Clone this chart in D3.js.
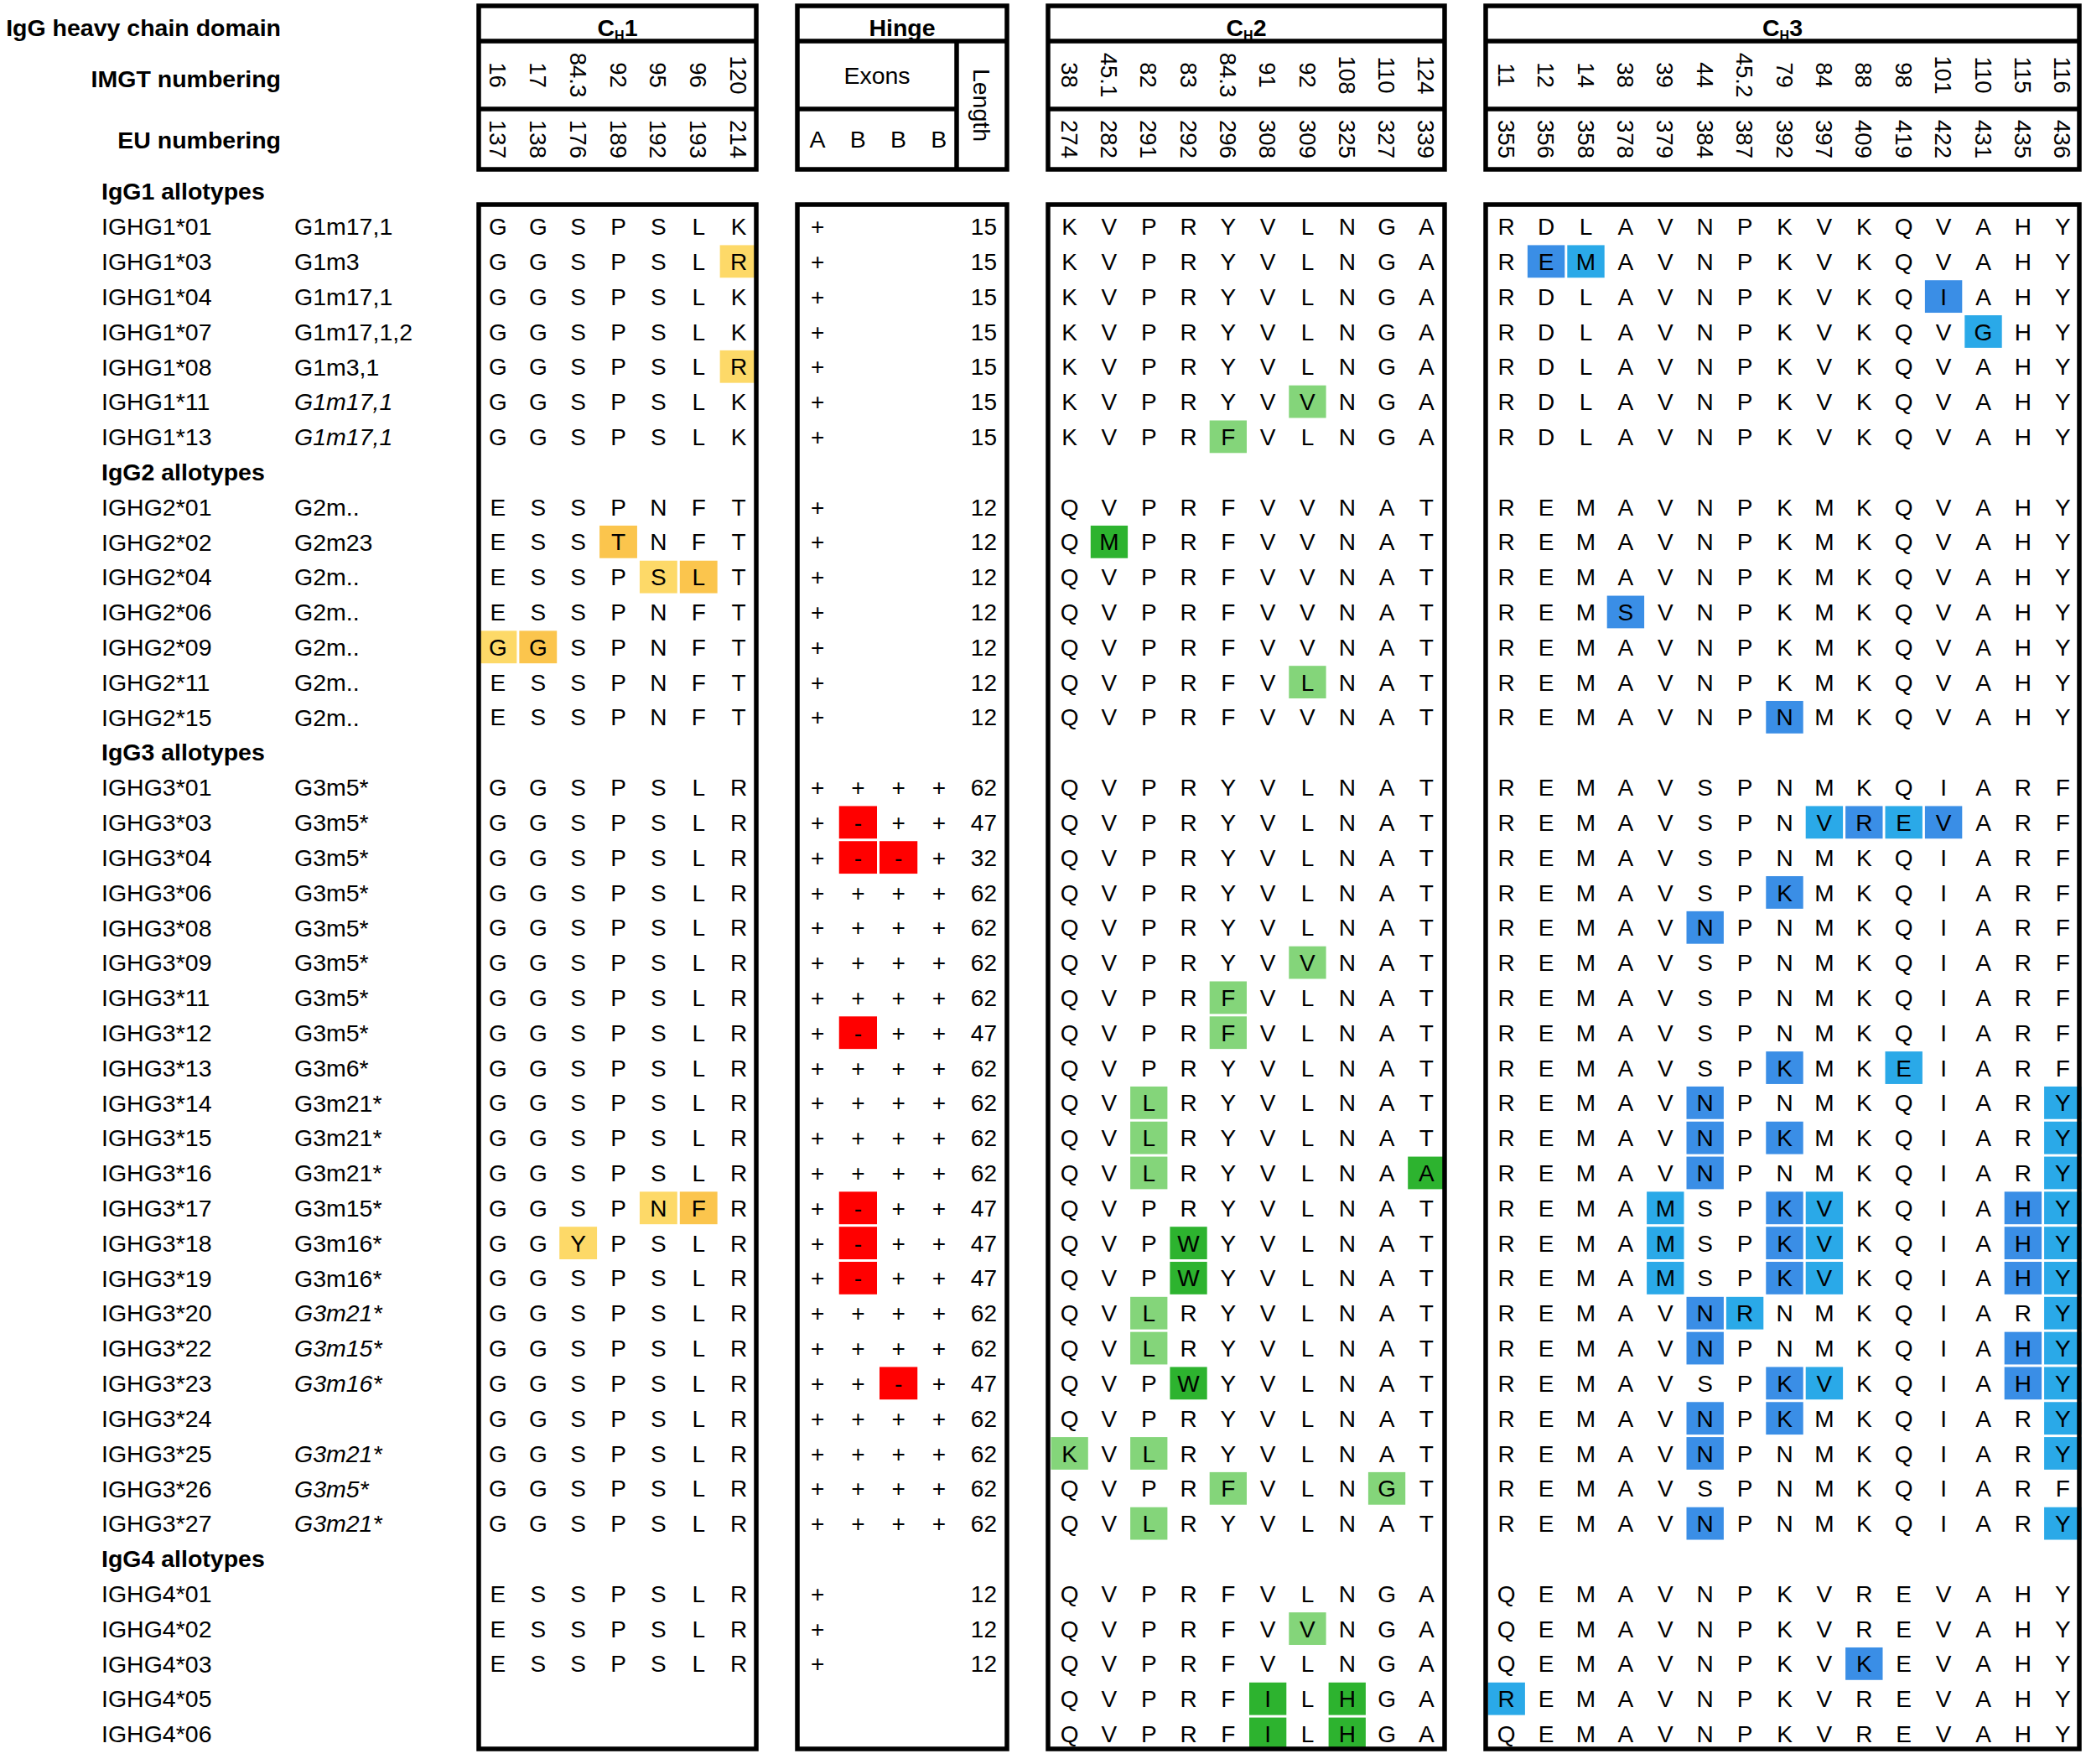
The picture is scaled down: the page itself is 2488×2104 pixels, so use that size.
<!DOCTYPE html>
<html>
<head>
<meta charset="utf-8">
<script src="https://cdn.jsdelivr.net/npm/d3@7"></script>
<style>
  body { margin: 0; background: #fff; }
  text { font-family: "Liberation Sans", Arial, sans-serif; fill: #000; }
</style>
</head>
<body>
<div id="chart"></div>
<script>
// ---- data ----
const groupNames = ["IgG1 allotypes", "IgG2 allotypes", "IgG3 allotypes", "IgG4 allotypes"];

const alleles = [
  "IGHG1*01","IGHG1*03","IGHG1*04","IGHG1*07","IGHG1*08","IGHG1*11","IGHG1*13",
  "IGHG2*01","IGHG2*02","IGHG2*04","IGHG2*06","IGHG2*09","IGHG2*11","IGHG2*15",
  "IGHG3*01","IGHG3*03","IGHG3*04","IGHG3*06","IGHG3*08","IGHG3*09","IGHG3*11","IGHG3*12",
  "IGHG3*13","IGHG3*14","IGHG3*15","IGHG3*16","IGHG3*17","IGHG3*18","IGHG3*19","IGHG3*20",
  "IGHG3*22","IGHG3*23","IGHG3*24","IGHG3*25","IGHG3*26","IGHG3*27",
  "IGHG4*01","IGHG4*02","IGHG4*03","IGHG4*05","IGHG4*06"
];

const allotypes = [
  "G1m17,1","G1m3","G1m17,1","G1m17,1,2","G1m3,1","G1m17,1","G1m17,1",
  "G2m..","G2m23","G2m..","G2m..","G2m..","G2m..","G2m..",
  "G3m5*","G3m5*","G3m5*","G3m5*","G3m5*","G3m5*","G3m5*","G3m5*",
  "G3m6*","G3m21*","G3m21*","G3m21*","G3m15*","G3m16*","G3m16*","G3m21*",
  "G3m15*","G3m16*","","G3m21*","G3m5*","G3m21*",
  "","","","",""
];

const italicAllotypes = ["IGHG1*11","IGHG1*13","IGHG3*20","IGHG3*22","IGHG3*23","IGHG3*25","IGHG3*26","IGHG3*27"];

const ch1Imgt = ["16","17","84.3","92","95","96","120"];
const ch1Eu   = ["137","138","176","189","192","193","214"];
const ch2Imgt = ["38","45.1","82","83","84.3","91","92","108","110","124"];
const ch2Eu   = ["274","282","291","292","296","308","309","325","327","339"];
const ch3Imgt = ["11","12","14","38","39","44","45.2","79","84","88","98","101","110","115","116"];
const ch3Eu   = ["355","356","358","378","379","384","387","392","397","409","419","422","431","435","436"];
const hingeExonNames = ["A","B","B","B"];

const ch1Seq = [
  "GGSPSLK","GGSPSLR","GGSPSLK","GGSPSLK","GGSPSLR","GGSPSLK","GGSPSLK",
  "ESSPNFT","ESSTNFT","ESSPSLT","ESSPNFT","GGSPNFT","ESSPNFT","ESSPNFT",
  "GGSPSLR","GGSPSLR","GGSPSLR","GGSPSLR","GGSPSLR","GGSPSLR","GGSPSLR","GGSPSLR",
  "GGSPSLR","GGSPSLR","GGSPSLR","GGSPSLR","GGSPNFR","GGYPSLR","GGSPSLR","GGSPSLR",
  "GGSPSLR","GGSPSLR","GGSPSLR","GGSPSLR","GGSPSLR","GGSPSLR",
  "ESSPSLR","ESSPSLR","ESSPSLR","",""
];
const ch1Mark = [
  "0","0000001","0","0","0000001","0","0",
  "0","0001000","0000110","0","1100000","0","0",
  "0","0","0","0","0","0","0","0",
  "0","0","0","0","0000110","0010000","0","0",
  "0","0","0","0","0","0",
  "0","0","0","",""
];

const hingeExons = [
  "+   ","+   ","+   ","+   ","+   ","+   ","+   ",
  "+   ","+   ","+   ","+   ","+   ","+   ","+   ",
  "++++","+-++","+--+","++++","++++","++++","++++","+-++",
  "++++","++++","++++","++++","+-++","+-++","+-++","++++",
  "++++","++-+","++++","++++","++++","++++",
  "+   ","+   ","+   ","",""
];
const hingeLength = [
  15,15,15,15,15,15,15,
  12,12,12,12,12,12,12,
  62,47,32,62,62,62,62,47,
  62,62,62,62,47,47,47,62,
  62,47,62,62,62,62,
  12,12,12,null,null
];

const ch2Seq = [
  "KVPRYVLNGA","KVPRYVLNGA","KVPRYVLNGA","KVPRYVLNGA","KVPRYVLNGA","KVPRYVVNGA","KVPRFVLNGA",
  "QVPRFVVNAT","QMPRFVVNAT","QVPRFVVNAT","QVPRFVVNAT","QVPRFVVNAT","QVPRFVLNAT","QVPRFVVNAT",
  "QVPRYVLNAT","QVPRYVLNAT","QVPRYVLNAT","QVPRYVLNAT","QVPRYVLNAT","QVPRYVVNAT","QVPRFVLNAT","QVPRFVLNAT",
  "QVPRYVLNAT","QVLRYVLNAT","QVLRYVLNAT","QVLRYVLNAA","QVPRYVLNAT","QVPWYVLNAT","QVPWYVLNAT","QVLRYVLNAT",
  "QVLRYVLNAT","QVPWYVLNAT","QVPRYVLNAT","KVLRYVLNAT","QVPRFVLNGT","QVLRYVLNAT",
  "QVPRFVLNGA","QVPRFVVNGA","QVPRFVLNGA","QVPRFILHGA","QVPRFILHGA"
];
const ch2Mark = [
  "0","0","0","0","0","0000001000","0000100000",
  "0","0100000000","0","0","0","0000001000","0",
  "0","0","0","0","0","0000001000","0000100000","0000100000",
  "0","0010000000","0010000000","0010000001","0","0001000000","0001000000","0010000000",
  "0010000000","0001000000","0","1010000000","0000100010","0010000000",
  "0","0000001000","0","0000010100","0000010100"
];

const ch3Seq = [
  "RDLAVNPKVKQVAHY","REMAVNPKVKQVAHY","RDLAVNPKVKQIAHY","RDLAVNPKVKQVGHY","RDLAVNPKVKQVAHY","RDLAVNPKVKQVAHY","RDLAVNPKVKQVAHY",
  "REMAVNPKMKQVAHY","REMAVNPKMKQVAHY","REMAVNPKMKQVAHY","REMSVNPKMKQVAHY","REMAVNPKMKQVAHY","REMAVNPKMKQVAHY","REMAVNPNMKQVAHY",
  "REMAVSPNMKQIARF","REMAVSPNVREVARF","REMAVSPNMKQIARF","REMAVSPKMKQIARF","REMAVNPNMKQIARF","REMAVSPNMKQIARF","REMAVSPNMKQIARF","REMAVSPNMKQIARF",
  "REMAVSPKMKEIARF","REMAVNPNMKQIARY","REMAVNPKMKQIARY","REMAVNPNMKQIARY","REMAMSPKVKQIAHY","REMAMSPKVKQIAHY","REMAMSPKVKQIAHY","REMAVNRNMKQIARY",
  "REMAVNPNMKQIAHY","REMAVSPKVKQIAHY","REMAVNPKMKQIARY","REMAVNPNMKQIARY","REMAVSPNMKQIARF","REMAVNPNMKQIARY",
  "QEMAVNPKVREVAHY","QEMAVNPKVREVAHY","QEMAVNPKVKEVAHY","REMAVNPKVREVAHY","QEMAVNPKVREVAHY"
];
const ch3Mark = [
  "0","011000000000000","000000000001000","000000000000100","0","0","0",
  "0","0","0","000100000000000","0","0","000000010000000",
  "0","000000001111000","0","000000010000000","000001000000000","0","0","0",
  "000000010010000","000001000000001","000001010000001","000001000000001","000010011000011","000010011000011","000010011000011","000001100000001",
  "000001000000011","000000011000011","000001010000001","000001000000001","0","000001000000001",
  "0","0","000000000100000","100000000000000","0"
];

// ---- layout ----
const width = 2488, height = 2104;
const fontSize = 28.5;

const svg = d3.select("#chart")
    .append("svg")
    .attr("width", width)
    .attr("height", height);

const groupOf = name => +name.charAt(4) - 1;
const rows = alleles.map((a, k) => ({
    name: a,
    line: k + groupOf(a),
    allotype: allotypes[k],
    italic: italicAllotypes.includes(a),
    ch1: ch1Seq[k], ch1m: ch1Mark[k],
    exons: hingeExons[k], len: hingeLength[k],
    ch2: ch2Seq[k], ch2m: ch2Mark[k],
    ch3: ch3Seq[k], ch3m: ch3Mark[k]
}));

const y = d3.scaleLinear()
            .domain([0, 43])
            .range([270, 2068]);
const rowH = y(1) - y(0);

const headTop = 7, headDiv1 = 49, headDiv2 = 130, headBottom = 202;
const dataTop = 244, dataBottom = 2086;

const domains = [
    { key: "ch1", num: "1", imgt: ch1Imgt, eu: ch1Eu, bx: [571, 902], range: [570, 905],
      colors: ["#fdd968", "#fbc54d"] },
    { key: "ch2", num: "2", imgt: ch2Imgt, eu: ch2Eu, bx: [1250, 1723], range: [1252, 1725],
      colors: ["#84d57a", "#2db32f"] },
    { key: "ch3", num: "3", imgt: ch3Imgt, eu: ch3Eu, bx: [1772, 2480], range: [1773, 2484],
      colors: ["#2aa9e8", "#3a8ee6"] }
];
const hingeBox = [951, 1201];
const lengthDiv = 1141;
const exonX = d3.scaleBand()
                .domain(d3.range(4))
                .range([951, 1144]);

const gCells = svg.append("g");
const gText = svg.append("g");
const gLines = svg.append("g");

// ---- left labels ----
const leftLabels = [
    { t: "IgG heavy chain domain", y: 33 },
    { t: "IMGT numbering", y: 94 },
    { t: "EU numbering", y: 167 }
];
gText.selectAll("text.left-head")
     .data(leftLabels)
     .enter().append("text")
     .attr("class", "left-head")
     .attr("x", 335)
     .attr("y", d => d.y)
     .attr("dy", "0.36em")
     .attr("text-anchor", "end")
     .attr("font-weight", "bold")
     .attr("font-size", fontSize)
     .text(d => d.t);

gText.selectAll("text.group")
     .data(groupNames)
     .enter().append("text")
     .attr("class", "group")
     .attr("x", 121)
     .attr("y", (d, i) => y(rows.find(r => groupOf(r.name) === i).line - 1))
     .attr("dy", "0.36em")
     .attr("font-weight", "bold")
     .attr("font-size", fontSize)
     .text(d => d);

gText.selectAll("text.allele")
     .data(rows)
     .enter().append("text")
     .attr("class", "allele")
     .attr("x", 121)
     .attr("y", d => y(d.line))
     .attr("dy", "0.36em")
     .attr("font-size", fontSize)
     .text(d => d.name);

gText.selectAll("text.allotype")
     .data(rows)
     .enter().append("text")
     .attr("class", "allotype")
     .attr("x", 351)
     .attr("y", d => y(d.line))
     .attr("dy", "0.36em")
     .attr("font-size", fontSize)
     .attr("font-style", d => d.italic ? "italic" : "normal")
     .text(d => d.allotype);

// ---- domain boxes (CH1, CH2, CH3) ----
const drawBox = (x0, x1, y0, y1) => {
    gLines.append("rect")
          .attr("x", x0).attr("y", y0)
          .attr("width", x1 - x0).attr("height", y1 - y0)
          .attr("fill", "none")
          .attr("stroke", "#000")
          .attr("stroke-width", 5.5);
};
const hLine = (x0, x1, yy) => {
    gLines.append("line")
          .attr("x1", x0).attr("x2", x1)
          .attr("y1", yy).attr("y2", yy)
          .attr("stroke", "#000")
          .attr("stroke-width", 5.5);
};

const addTitle = (cx, parts) => {
    const t = gText.append("text")
                   .attr("x", cx)
                   .attr("y", 33)
                   .attr("dy", "0.36em")
                   .attr("text-anchor", "middle")
                   .attr("font-weight", "bold")
                   .attr("font-size", fontSize);
    parts(t);
};

domains.forEach(dm => {
    const n = dm.imgt.length;
    const x = d3.scaleBand()
                .domain(d3.range(n))
                .range(dm.range);
    const cx = (dm.bx[0] + dm.bx[1]) / 2;

    drawBox(dm.bx[0], dm.bx[1], headTop, headBottom);
    hLine(dm.bx[0], dm.bx[1], headDiv1);
    hLine(dm.bx[0], dm.bx[1], headDiv2);
    drawBox(dm.bx[0], dm.bx[1], dataTop, dataBottom);

    addTitle(cx, t => {
        t.append("tspan").text("C");
        t.append("tspan").attr("font-size", 16).attr("dy", 5).text("H");
        t.append("tspan").attr("dy", -5).text(dm.num);
    });

    [[dm.imgt, (headDiv1 + headDiv2) / 2], [dm.eu, (headDiv2 + headBottom) / 2]].forEach(([labels, cy]) => {
        gText.selectAll(null)
             .data(labels)
             .enter().append("text")
             .attr("transform", (d, i) => `translate(${x(i) + x.bandwidth() / 2},${cy}) rotate(90)`)
             .attr("dy", "0.36em")
             .attr("text-anchor", "middle")
             .attr("font-size", 27.5)
             .text(d => d);
    });

    const cells = [];
    rows.forEach(r => {
        const seq = r[dm.key], mark = r[dm.key + "m"];
        seq.split("").forEach((c, i) => {
            cells.push({ c, i, line: r.line, hl: mark.charAt(i) === "1" });
        });
    });

    gCells.selectAll(null)
          .data(cells.filter(d => d.hl))
          .enter().append("rect")
          .attr("x", d => x(d.i) + 1.5)
          .attr("y", d => y(d.line) - rowH / 2 + 1.5)
          .attr("width", x.bandwidth() - 3)
          .attr("height", rowH - 3)
          .attr("fill", d => dm.colors[d.i % 2]);

    gText.selectAll(null)
         .data(cells)
         .enter().append("text")
         .attr("x", d => x(d.i) + x.bandwidth() / 2)
         .attr("y", d => y(d.line))
         .attr("dy", "0.36em")
         .attr("text-anchor", "middle")
         .attr("font-size", 28)
         .text(d => d.c);
});

// ---- hinge ----
drawBox(hingeBox[0], hingeBox[1], headTop, headBottom);
hLine(hingeBox[0], hingeBox[1], headDiv1);
hLine(hingeBox[0], lengthDiv, headDiv2);
gLines.append("line")
      .attr("x1", lengthDiv).attr("x2", lengthDiv)
      .attr("y1", headDiv1).attr("y2", headBottom)
      .attr("stroke", "#000")
      .attr("stroke-width", 5.5);
drawBox(hingeBox[0], hingeBox[1], dataTop, dataBottom);

addTitle((hingeBox[0] + hingeBox[1]) / 2, t => t.text("Hinge"));

gText.append("text")
     .attr("x", (hingeBox[0] + lengthDiv) / 2)
     .attr("y", (headDiv1 + headDiv2) / 2)
     .attr("dy", "0.36em")
     .attr("text-anchor", "middle")
     .attr("font-size", fontSize)
     .text("Exons");

gText.append("text")
     .attr("transform", `translate(${(lengthDiv + hingeBox[1]) / 2},${(headDiv1 + headBottom) / 2}) rotate(90)`)
     .attr("dy", "0.36em")
     .attr("text-anchor", "middle")
     .attr("font-size", fontSize)
     .text("Length");

gText.selectAll(null)
     .data(hingeExonNames)
     .enter().append("text")
     .attr("x", (d, i) => exonX(i) + exonX.bandwidth() / 2)
     .attr("y", (headDiv2 + headBottom) / 2)
     .attr("dy", "0.36em")
     .attr("text-anchor", "middle")
     .attr("font-size", fontSize)
     .text(d => d);

const exonCells = [];
rows.forEach(r => {
    r.exons.split("").forEach((c, i) => {
        if (c !== " ") exonCells.push({ c, i, line: r.line });
    });
});

gCells.selectAll(null)
      .data(exonCells.filter(d => d.c === "-"))
      .enter().append("rect")
      .attr("x", d => exonX(d.i) + 1.5)
      .attr("y", d => y(d.line) - rowH / 2 + 1.5)
      .attr("width", exonX.bandwidth() - 3)
      .attr("height", rowH - 3)
      .attr("fill", "#ff0000");

gText.selectAll(null)
     .data(exonCells)
     .enter().append("text")
     .attr("x", d => exonX(d.i) + exonX.bandwidth() / 2)
     .attr("y", d => y(d.line))
     .attr("dy", "0.36em")
     .attr("text-anchor", "middle")
     .attr("font-size", 28)
     .text(d => d.c);

gText.selectAll(null)
     .data(rows.filter(r => r.len !== null))
     .enter().append("text")
     .attr("x", 1189)
     .attr("y", d => y(d.line))
     .attr("dy", "0.36em")
     .attr("text-anchor", "end")
     .attr("font-size", 28)
     .text(d => d.len);
</script>
</body>
</html>
